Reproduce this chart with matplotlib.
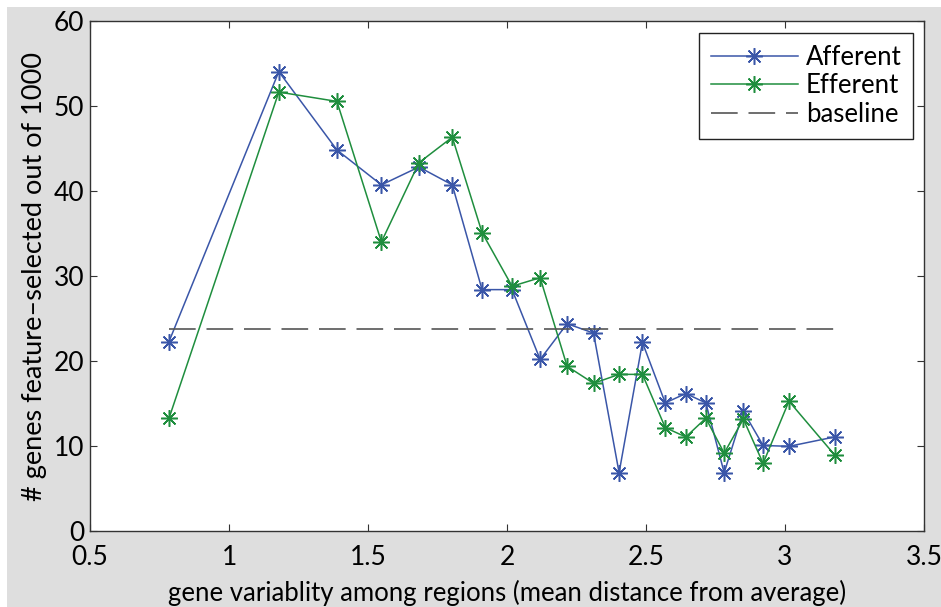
import matplotlib
matplotlib.use("Agg")
import matplotlib.pyplot as plt
from matplotlib.patches import Rectangle

# x positions (mean distance from average) and counts
x_vals = [0.784, 1.179, 1.388, 1.548, 1.683, 1.803, 1.910, 2.018, 2.119, 2.216,
          2.311, 2.403, 2.487, 2.569, 2.643, 2.715, 2.781, 2.850, 2.921, 3.014, 3.178]
afferent = [22.3, 54.0, 44.8, 40.7, 42.8, 40.7, 28.4, 28.4, 20.2, 24.4,
            23.3, 6.9, 22.2, 15.1, 16.2, 15.1, 6.9, 14.1, 10.1, 10.0, 11.1]
efferent = [13.3, 51.6, 50.5, 34.0, 43.3, 46.3, 35.1, 28.8, 29.8, 19.4,
            17.4, 18.45, 18.45, 12.2, 11.1, 13.3, 9.2, 13.2, 8.0, 15.3, 9.0]
baseline = 23.8

x_ticks = [0.5, 1, 1.5, 2, 2.5, 3, 3.5]
x_tick_labels = ["0.5", "1", "1.5", "2", "2.5", "3", "3.5"]
y_ticks = [0, 10, 20, 30, 40, 50, 60]

plt.rcParams["font.family"] = ["Lato", "DejaVu Sans"]

fig = plt.figure(figsize=(9.41, 6.07), dpi=100, facecolor="white")
# grey page area with a thin white strip on the left and top, as in the scan
fig.patches.append(Rectangle((7 / 941, 0), 1, 1 - 7 / 607, transform=fig.transFigure,
                             facecolor="#dedede", edgecolor="none", zorder=-10))
ax = fig.add_axes([0.0957, 0.1244, 0.8863, 0.8418])

star = (8, 2, 0)  # 8-spoke asterisk like MATLAB's '*'
ax.plot(x_vals, afferent, color="#3a56a8", lw=1.1, marker=star,
        markersize=12, markeredgewidth=1.1, label="Afferent")
ax.plot(x_vals, efferent, color="#1f8e3e", lw=1.1, marker=star,
        markersize=12, markeredgewidth=1.1, label="Efferent")
ax.plot([x_vals[0], x_vals[-1]], [baseline, baseline], color="#555555",
        lw=1.2, dashes=(16, 6.5), label="baseline")

ax.set_xlim(0.5, 3.5)
ax.set_ylim(0, 60)
ax.set_xticks(x_ticks)
ax.set_xticklabels(x_tick_labels)
ax.set_yticks(y_ticks)
ax.tick_params(direction="in", top=True, right=True, length=5,
               labelsize=19, color="#333333")
ax.tick_params(axis="x", pad=10)
ax.tick_params(axis="y", pad=4)
for s in ax.spines.values():
    s.set_color("#333333")
    s.set_linewidth(1.0)

ax.set_xlabel("gene variablity among regions (mean distance from average)",
              fontsize=18.5, labelpad=7)
ax.set_ylabel("# genes feature\u2013selected out of 1000", fontsize=19.5, labelpad=5)

leg = ax.legend(loc="upper right", fontsize=18.5, handlelength=3.4,
                fancybox=False, edgecolor="#222222", framealpha=1,
                borderpad=0.45, labelspacing=0.15, handletextpad=0.3,
                borderaxespad=0, bbox_to_anchor=(913 / 941, 1 - 33 / 607),
                bbox_transform=fig.transFigure)
leg.get_frame().set_linewidth(1.0)

fig.savefig("out.png", dpi=100, facecolor=fig.get_facecolor())
